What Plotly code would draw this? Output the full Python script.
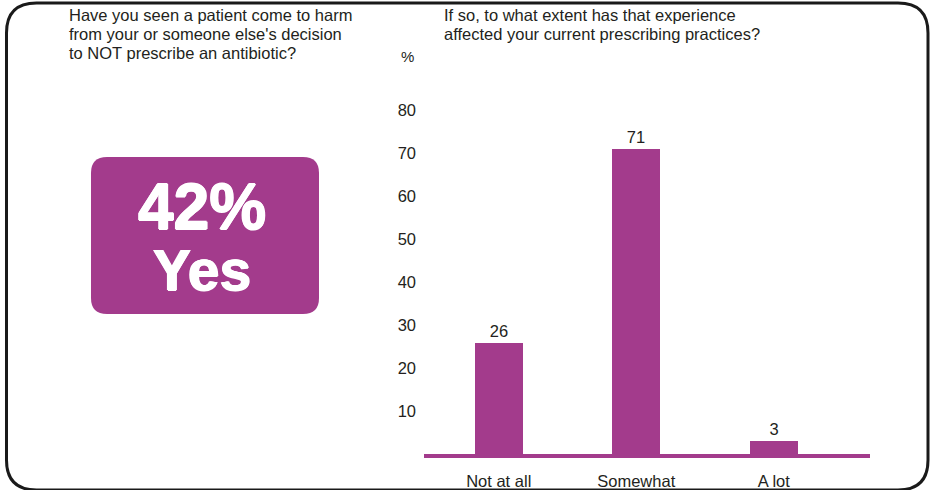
import plotly.graph_objects as go

# Survey results
categories = ["Not at all", "Somewhat", "A lot"]
percentages = [26, 71, 3]
y_ticks = [10, 20, 30, 40, 50, 60, 70, 80]
headline_share = "42%"
headline_answer = "Yes"
question_left = ["Have you seen a patient come to harm",
                 "from your or someone else's decision",
                 "to NOT prescribe an antibiotic?"]
question_right = ["If so, to what extent has that experience",
                  "affected your current prescribing practices?"]

W, H = 931, 490
PURPLE = "#A33B8C"
INK = "#231f20"
FONT = "Liberation Sans, Arial, sans-serif"
TXT = 16.5


def px(x, y):
    """Pixel position -> paper fraction."""
    return x / W, 1 - y / H


def rounded_rect(x0, y0, x1, y1, r):
    def P(x, y):
        a, b = px(x, y)
        return f"{a:.5f},{b:.5f}"
    return (f"M {P(x0 + r, y0)} L {P(x1 - r, y0)} Q {P(x1, y0)} {P(x1, y0 + r)} "
            f"L {P(x1, y1 - r)} Q {P(x1, y1)} {P(x1 - r, y1)} "
            f"L {P(x0 + r, y1)} Q {P(x0, y1)} {P(x0, y1 - r)} "
            f"L {P(x0, y0 + r)} Q {P(x0, y0)} {P(x0 + r, y0)} Z")


fig = go.Figure()
fig.add_trace(go.Bar(
    x=categories, y=percentages,
    marker=dict(color=PURPLE, line=dict(width=0)),
    width=0.35,
    text=[str(v) for v in percentages],
    textposition="outside",
    textfont=dict(size=TXT, color=INK, family=FONT),
    cliponaxis=False,
))

base_px = 454.3        # bottom of the bars
px_per_unit = 4.3
plot_left, plot_right = 424, 870
first_center, step = 498.75, 137.5

fig.update_layout(
    width=W, height=H,
    margin=dict(l=0, r=0, t=0, b=0, pad=0),
    paper_bgcolor="white", plot_bgcolor="white",
    showlegend=False,
    bargap=0,
    font=dict(family=FONT, color=INK, size=TXT),
    xaxis=dict(
        domain=[plot_left / W, plot_right / W],
        range=[(plot_left - first_center) / step, (plot_right - first_center) / step],
        showgrid=False, zeroline=False,
        showline=True, linecolor=PURPLE, linewidth=4.4,
        ticks="", ticklabelstandoff=9,
        tickfont=dict(size=TXT, color=INK),
    ),
    yaxis=dict(
        domain=[1 - base_px / H, 1],
        range=[0, base_px / px_per_unit],
        showgrid=False, zeroline=False, showline=False,
        tickvals=y_ticks, ticks="", ticklabelstandoff=7,
        tickfont=dict(size=16.5, color=INK),
    ),
)

shapes = [
    dict(type="path", xref="paper", yref="paper",
         path=rounded_rect(6.5, 3, 928, 490, 30),
         line=dict(color="#1a1a1a", width=3), fillcolor="rgba(0,0,0,0)", layer="below"),
    dict(type="path", xref="paper", yref="paper",
         path=rounded_rect(91, 157, 319, 314, 16),
         line=dict(width=0), fillcolor=PURPLE, layer="below"),
]
fig.update_layout(shapes=shapes)

annotations = []
line_y = [14.5, 34, 53.5]
for i, line in enumerate(question_left):
    x, y = px(67, line_y[i])
    annotations.append(dict(x=x, y=y, xref="paper", yref="paper", text=line,
                            showarrow=False, xanchor="left", yanchor="middle",
                            font=dict(size=TXT, color=INK)))
for i, line in enumerate(question_right):
    x, y = px(442, line_y[i])
    annotations.append(dict(x=x, y=y, xref="paper", yref="paper", text=line,
                            showarrow=False, xanchor="left", yanchor="middle",
                            font=dict(size=TXT, color=INK)))
x, y = px(407, 57)
annotations.append(dict(x=x, y=y, xref="paper", yref="paper", text="%",
                        showarrow=False, xanchor="center", yanchor="middle",
                        font=dict(size=15, color=INK)))

# Headline: two lines in one text block, tight line spacing from a small base size
heavy = "0.8px 0 0 white, -0.8px 0 0 white, 0 0.6px 0 white, 0 -0.6px 0 white"
headline = (f"<b><span style='font-size:64px'>{headline_share}</span><br>"
            f"<span style='font-size:57px'>{headline_answer}</span></b>")
x, y = px(201.5, 236)
annotations.append(dict(x=x, y=y, xref="paper", yref="paper",
                        text=headline, showarrow=False,
                        xanchor="center", yanchor="middle", align="center",
                        font=dict(size=47.3, color="white", family=FONT, shadow=heavy)))
fig.update_layout(annotations=annotations)

fig.write_html("out.html")
